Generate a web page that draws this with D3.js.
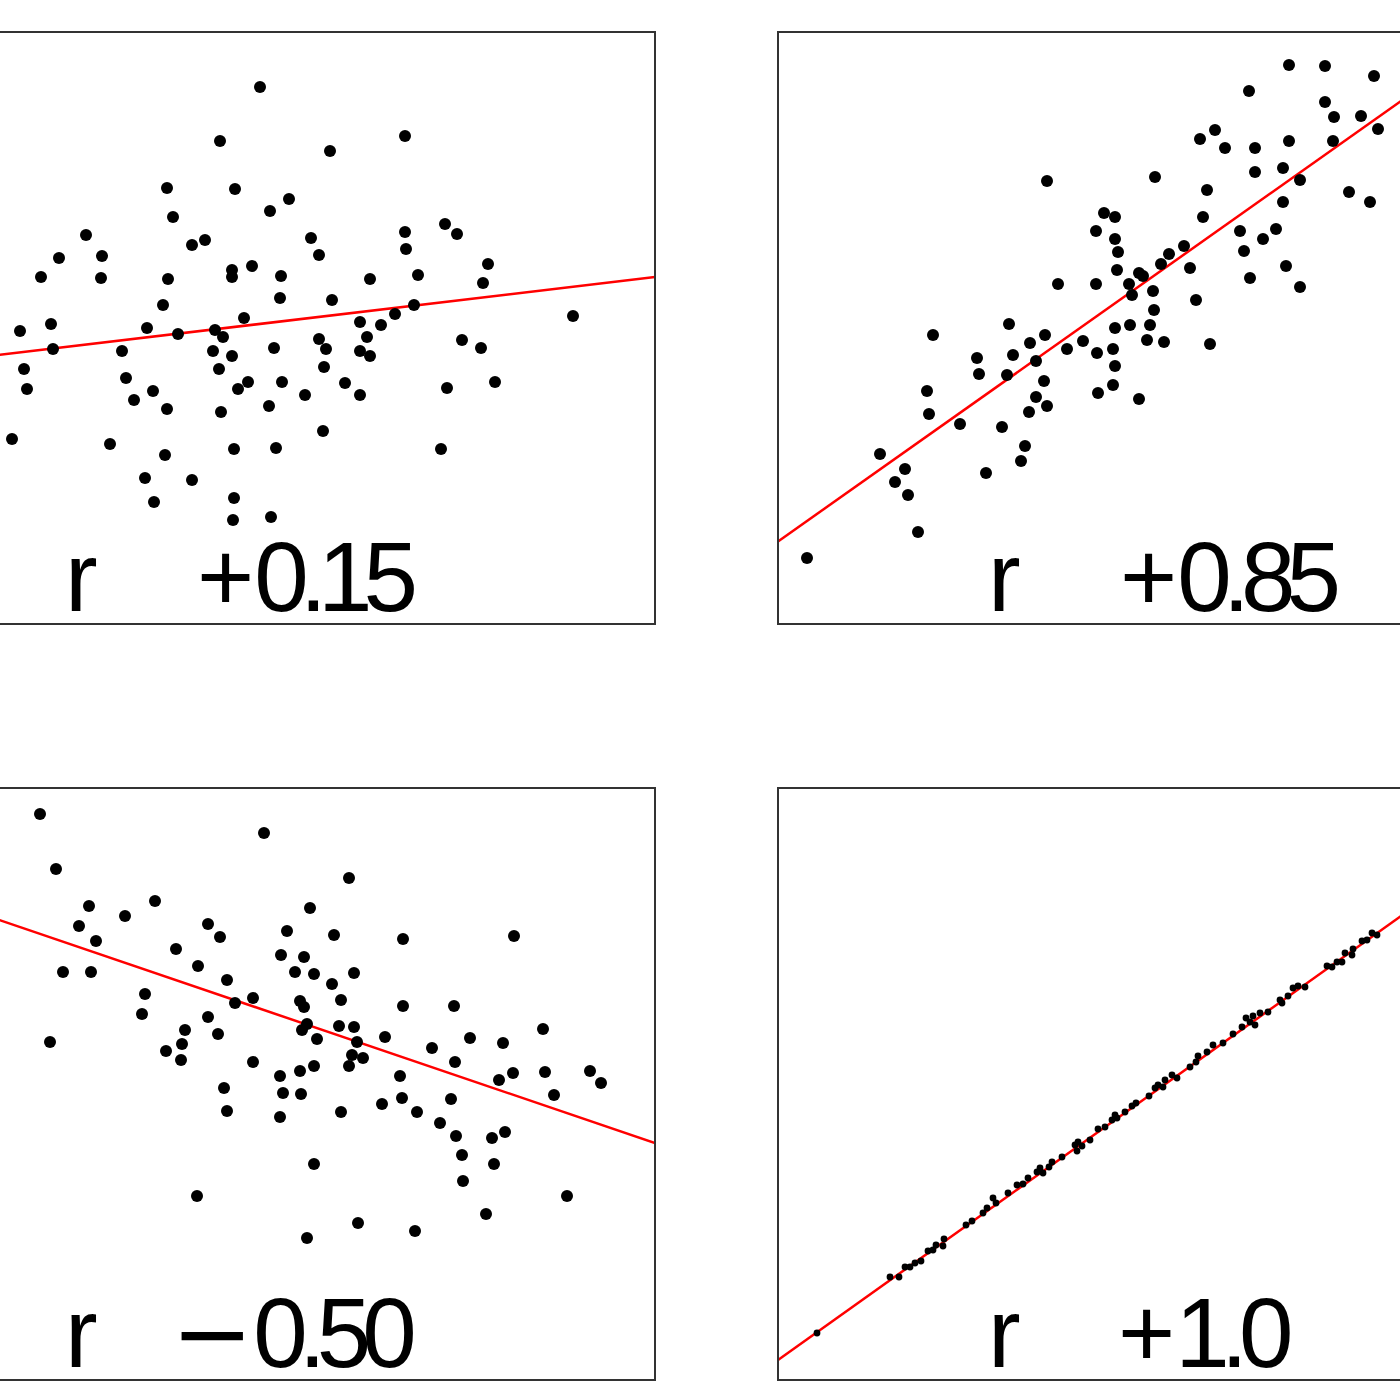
<!DOCTYPE html>
<html>
<head>
<meta charset="utf-8">
<script src="https://cdn.jsdelivr.net/npm/d3@7"></script>
<style>
  body { margin: 0; background: #fff; }
</style>
</head>
<body>
<svg id="chart"></svg>
<script>
// values, in panel units (x 0..800, y 0..592)
var rLabels = ['+0.15', '+0.85', '\u22120.50', '+1.0'];

var pointsA = [[405,537],[550,488],[365,483],[475,473],[312,436],[380,435],[434,425],[415,413],[318,407],
  [231,389],[337,379],[350,384],[456,386],[464,369],[550,392],[551,375],[590,400],[602,390],[204,366],
  [247,368],[246,346],[186,347],[313,345],[377,354],[377,347],[397,358],[426,348],[425,326],[515,345],
  [563,349],[633,360],[628,341],[308,319],[477,324],[389,306],[165,293],[196,300],[198,275],[169,255],
  [172,235],[292,296],[323,290],[267,273],[271,246],[279,224],[298,233],[312,215],[360,294],[368,287],
  [358,273],[377,268],[364,255],[393,242],[383,235],[366,212],[419,276],[427,242],[414,218],[450,229],
  [464,285],[471,275],[469,257],[468,193],[490,241],[505,229],[505,302],[512,287],[505,273],[515,268],
  [526,299],[540,310],[559,319],[607,284],[626,276],[640,242],[592,236],[586,175],[718,308],[157,185],
  [255,180],[310,169],[290,146],[299,122],[337,144],[379,175],[421,176],[379,126],[378,104],[416,107]];

var pointsB = [[29,66],[102,170],[127,155],[117,142],[130,129],[140,92],[155,289],[149,233],[151,210],
  [182,200],[208,151],[199,266],[201,250],[224,197],[231,300],[235,269],[229,249],[252,281],[258,263],
  [267,289],[266,243],[258,227],[251,212],[269,218],[247,178],[243,163],[269,443],[280,340],[289,275],
  [305,283],[318,340],[318,393],[326,411],[337,407],[337,385],[340,372],[339,354],[319,271],[335,275],
  [337,296],[337,258],[335,239],[320,231],[352,299],[351,340],[354,329],[361,351],[365,348],[375,333],
  [376,314],[372,299],[369,284],[386,282],[361,225],[377,447],[383,360],[391,370],[406,378],[412,356],
  [418,324],[432,280],[422,485],[437,494],[447,476],[429,434],[425,407],[462,393],[466,373],[472,346],
  [471,533],[477,476],[477,452],[485,385],[498,395],[508,358],[522,337],[505,456],[505,422],[511,483],
  [522,444],[511,559],[547,558],[547,522],[556,507],[555,483],[571,432],[592,422],[583,508],[600,495],
  [596,548]];

var pointsC = [[185,566],[201,511],[409,547],[494,502],[234,474],[224,454],[241,439],[208,408],[236,408],
  [195,338],[270,464],[300,479],[321,431],[353,456],[365,443],[343,414],[372,400],[290,386],[287,366],
  [380,377],[398,382],[353,363],[363,346],[330,350],[327,336],[311,329],[326,320],[398,318],[369,292],
  [372,269],[342,184],[432,449],[426,425],[449,423],[440,408],[459,406],[455,472],[479,445],[477,396],
  [499,407],[486,380],[445,379],[449,373],[452,356],[447,350],[462,341],[484,354],[499,353],[502,338],
  [497,325],[508,322],[494,314],[459,314],[445,309],[425,304],[428,287],[446,286],[425,263],[486,268],
  [459,216],[452,142],[503,157],[548,441],[548,374],[530,343],[545,304],[547,282],[527,276],[562,268],
  [560,149],[577,332],[599,374],[615,342],[600,318],[596,281],[585,257],[601,244],[607,225],[608,199],
  [659,444],[648,337],[658,307],[644,300],[637,242],[650,248],[639,216],[631,166],[688,351],[690,308],
  [699,285],[712,184],[735,309],[746,297]];

var pointsD = [[39,47],[112,103],[121,103],[127,113],[132,113],[137,117],[143,119],[150,129],[155,130],
  [158,135],[165,134],[166,141],[188,155],[194,159],[205,167],[209,172],[218,177],[215,182],[230,187],
  [239,195],[245,196],[250,202],[259,208],[262,212],[265,207],[271,213],[274,218],[284,223],[297,235],
  [300,238],[299,229],[304,234],[312,240],[320,251],[327,253],[334,260],[337,265],[339,262],[347,268],
  [354,274],[358,277],[371,284],[377,292],[380,295],[385,293],[387,300],[394,305],[399,302],[412,313],
  [418,318],[420,324],[429,328],[435,335],[445,337],[455,346],[464,353],[468,362],[472,358],[475,364],
  [477,355],[482,367],[490,368],[502,380],[504,377],[510,384],[515,392],[520,394],[527,393],[549,414],
  [554,413],[559,418],[564,418],[567,427],[574,425],[575,431],[584,439],[589,440],[594,447],[599,445]];

// fitted line end points [x0, y0, x1, y1]
var fitLines = [[0,252,800,347],[0,82.5,800,648],[0,509,800,237],[0,20,800,590]];

var w = 1400;
var h = 1400;
var panelW = 800;
var panelH = 592;
var font = '"Liberation Sans", Arial, sans-serif';

var panels = [
  {left: -145, top: 32, pts: pointsA, r: 6, labelX: 342},
  {left: 778, top: 32, pts: pointsB, r: 6, labelX: 342},
  {left: -145, top: 788, pts: pointsC, r: 6, labelX: 316},
  {left: 778, top: 788, pts: pointsD, r: 3.4, labelX: 340}
];

var svg = d3.select('#chart').attr('width', w).attr('height', h);
svg.append('rect').attr('width', w).attr('height', h).attr('fill', '#fff');

panels.forEach(function (p, i) {
  var x = d3.scaleLinear().domain([0, 800]).range([p.left, p.left + panelW]);
  var y = d3.scaleLinear().domain([0, 592]).range([p.top + panelH, p.top]);

  svg.append('clipPath').attr('id', 'clip' + i)
    .append('rect')
    .attr('x', p.left).attr('y', p.top)
    .attr('width', panelW).attr('height', panelH);

  var g = svg.append('g').attr('clip-path', 'url(#clip' + i + ')');

  var f = fitLines[i];
  g.append('line')
    .attr('x1', x(f[0])).attr('y1', y(f[1]))
    .attr('x2', x(f[2])).attr('y2', y(f[3]))
    .attr('stroke', '#ff0000')
    .attr('stroke-width', 2.5);

  g.selectAll('circle')
    .data(p.pts)
    .enter()
    .append('circle')
    .attr('cx', function (d) { return x(d[0]); })
    .attr('cy', function (d) { return y(d[1]); })
    .attr('r', p.r)
    .attr('fill', '#000');

  // label: "r" and the value
  var base = p.top + panelH - 13;
  svg.append('text')
    .attr('x', p.left + 210).attr('y', base)
    .attr('font-family', font)
    .attr('font-size', 98)
    .attr('fill', '#000')
    .text('r');

  var label = rLabels[i];
  var t = svg.append('text')
    .attr('x', p.left + p.labelX).attr('y', base)
    .attr('font-family', font)
    .attr('font-size', 98)
    .attr('fill', '#000');
  t.append('tspan')
    .attr('font-family', label[0] === '+' ? font : '"DejaVu Sans", sans-serif')
    .text(label[0]);
  t.append('tspan')
    .attr('letter-spacing', -9)
    .text(label.slice(1));

  svg.append('rect')
    .attr('x', p.left).attr('y', p.top)
    .attr('width', panelW).attr('height', panelH)
    .attr('fill', 'none')
    .attr('stroke', '#333')
    .attr('stroke-width', 2);
});
</script>
</body>
</html>
